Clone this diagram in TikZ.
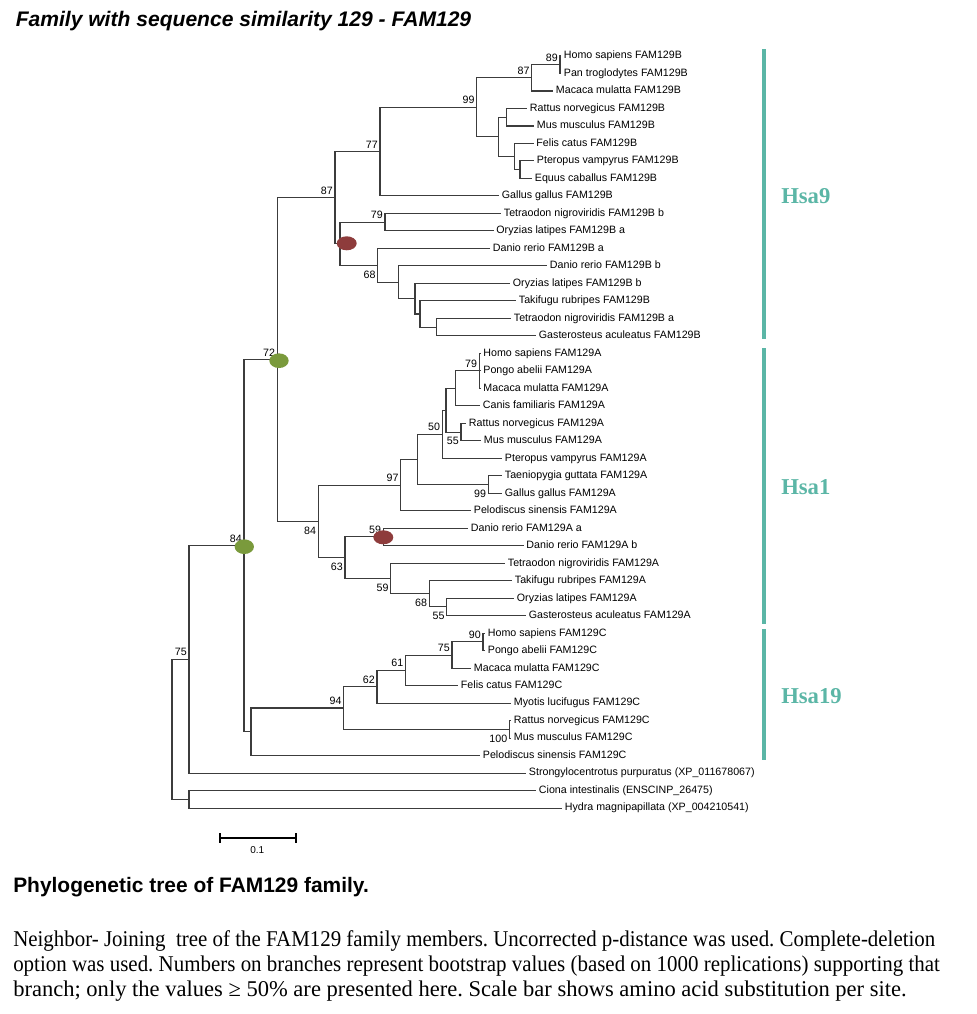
\documentclass[tikz,border=0pt]{standalone}
\usepackage{fontspec}
\usepackage{graphicx}
\setmainfont{Liberation Serif}
\newfontfamily\arial{Liberation Sans}
\usetikzlibrary{shapes.geometric}
\definecolor{hsateal}{RGB}{91,182,166}
\definecolor{gdot}{RGB}{122,154,60}
\definecolor{rdot}{RGB}{142,60,60}
\definecolor{branch}{RGB}{60,60,60}
\begin{document}
\frenchspacing
\begin{tikzpicture}[x=0.75pt,y=-0.75pt,
  leaf/.style={anchor=west,inner sep=2pt,font=\arial\fontsize{8}{9}\selectfont,text height=5.8pt,text depth=1.6pt},
  bsa/.style={anchor=base east,inner sep=0pt,xshift=-1.5pt,yshift=2.6pt,font=\arial\fontsize{8}{9}\selectfont},
  bsb/.style={anchor=base east,inner sep=0pt,xshift=-1.5pt,yshift=-9.6pt,font=\arial\fontsize{8}{9}\selectfont},
  br/.style={draw=branch,line width=0.8pt},
  gdotst/.style={fill=gdot,draw=none,ellipse,minimum width=14.5pt,minimum height=11pt,inner sep=0pt},
  rdotst/.style={fill=rdot,draw=none,ellipse,minimum width=15pt,minimum height=10.5pt,inner sep=0pt},
  hsabar/.style={draw=hsateal,line width=3pt},
  hsalab/.style={anchor=west,inner sep=0pt,text=hsateal,font=\fontsize{17}{20}\selectfont\bfseries},
  captxt/.style={anchor=base west,inner sep=0pt,font=\fontsize{16.9}{19}\selectfont}
]
\useasboundingbox (0,0) rectangle (976,1014);
\fill[white] (0,0) rectangle (976,1014);

% title
\node[anchor=west,inner sep=0pt,font=\arial\fontsize{15.8}{18}\selectfont\bfseries\itshape] (title) at (15.5,21) {Family with sequence similarity 129 - FAM129};

% leaves
\node[leaf] (l0) at (561,56.0) {Homo sapiens FAM129B};
\node[leaf] (l1) at (561,73.5) {Pan troglodytes FAM129B};
\node[leaf] (l2) at (553,91.0) {Macaca mulatta FAM129B};
\node[leaf] (l3) at (527,108.5) {Rattus norvegicus FAM129B};
\node[leaf] (l4) at (534,126.0) {Mus musculus FAM129B};
\node[leaf] (l5) at (533.5,143.5) {Felis catus FAM129B};
\node[leaf] (l6) at (534,160.9) {Pteropus vampyrus FAM129B};
\node[leaf] (l7) at (532,178.4) {Equus caballus FAM129B};
\node[leaf] (l8) at (499,195.9) {Gallus gallus FAM129B};
\node[leaf] (l9) at (501,213.4) {Tetraodon nigroviridis FAM129B b};
\node[leaf] (l10) at (493.5,230.9) {Oryzias latipes FAM129B a};
\node[leaf] (l11) at (490,248.4) {Danio rerio FAM129B a};
\node[leaf] (l12) at (547,265.9) {Danio rerio FAM129B b};
\node[leaf] (l13) at (510,283.4) {Oryzias latipes FAM129B b};
\node[leaf] (l14) at (516,300.9) {Takifugu rubripes FAM129B};
\node[leaf] (l15) at (511,318.4) {Tetraodon nigroviridis FAM129B a};
\node[leaf] (l16) at (536,335.8) {Gasterosteus aculeatus FAM129B};
\node[leaf] (l17) at (480.5,353.3) {Homo sapiens FAM129A};
\node[leaf] (l18) at (480.5,370.8) {Pongo abelii FAM129A};
\node[leaf] (l19) at (480.5,388.3) {Macaca mulatta FAM129A};
\node[leaf] (l20) at (480,405.8) {Canis familiaris FAM129A};
\node[leaf] (l21) at (466,423.3) {Rattus norvegicus FAM129A};
\node[leaf] (l22) at (481,440.8) {Mus musculus FAM129A};
\node[leaf] (l23) at (502,458.3) {Pteropus vampyrus FAM129A};
\node[leaf] (l24) at (502,475.8) {Taeniopygia guttata FAM129A};
\node[leaf] (l25) at (502,493.3) {Gallus gallus FAM129A};
\node[leaf] (l26) at (471,510.7) {Pelodiscus sinensis FAM129A};
\node[leaf] (l27) at (468,528.2) {Danio rerio FAM129A a};
\node[leaf] (l28) at (523.5,545.7) {Danio rerio FAM129A b};
\node[leaf] (l29) at (505,563.2) {Tetraodon nigroviridis FAM129A};
\node[leaf] (l30) at (512,580.7) {Takifugu rubripes FAM129A};
\node[leaf] (l31) at (514,598.2) {Oryzias latipes FAM129A};
\node[leaf] (l32) at (526,615.7) {Gasterosteus aculeatus FAM129A};
\node[leaf] (l33) at (485,633.2) {Homo sapiens FAM129C};
\node[leaf] (l34) at (485,650.7) {Pongo abelii FAM129C};
\node[leaf] (l35) at (471,668.2) {Macaca mulatta FAM129C};
\node[leaf] (l36) at (458,685.6) {Felis catus FAM129C};
\node[leaf] (l37) at (511,703.1) {Myotis lucifugus FAM129C};
\node[leaf] (l38) at (511,720.6) {Rattus norvegicus FAM129C};
\node[leaf] (l39) at (511,738.1) {Mus musculus FAM129C};
\node[leaf] (l40) at (480,755.6) {Pelodiscus sinensis FAM129C};
\node[leaf] (l41) at (526,773.1) {Strongylocentrotus purpuratus (XP\_011678067)};
\node[leaf] (l42) at (536,790.6) {Ciona intestinalis (ENSCINP\_26475)};
\node[leaf] (l43) at (562,808.1) {Hydra magnipapillata (XP\_004210541)};

% internal nodes
\coordinate (b89) at (560,64.75);
\coordinate (b87) at (531.7,77.9);
\coordinate (bRM) at (506.7,117.25);
\coordinate (bPE) at (520,169.65);
\coordinate (bFPE) at (514.3,156.6);
\coordinate (bRMF) at (498.3,136.9);
\coordinate (b99) at (476.7,107.4);
\coordinate (b77) at (380,151.65);
\coordinate (b79) at (385,222.15);
\coordinate (bTG) at (436.7,327.1);
\coordinate (bTk) at (420,314.0);
\coordinate (bOr) at (415,298.7);
\coordinate (bDb) at (398.3,282.3);
\coordinate (b68) at (377.7,265.35);
\coordinate (bF) at (340,243.75);
\coordinate (b87b) at (335,197.7);
\coordinate (a79) at (479.3,370.8);
\coordinate (aC) at (455.7,388.3);
\coordinate (a55) at (461,432.05);
\coordinate (aR) at (446,410.2);
\coordinate (a50) at (442.3,434.25);
\coordinate (a99) at (488.3,484.55);
\coordinate (aMB) at (417.7,459.4);
\coordinate (a97) at (400.7,485.05);
\coordinate (a59r) at (383.3,536.95);
\coordinate (a55b) at (446.7,606.95);
\coordinate (a68) at (429.3,593.8);
\coordinate (a59) at (390.7,578.5);
\coordinate (a63) at (345,557.7);
\coordinate (a84) at (318.3,521.4);
\coordinate (n72) at (277.3,359.55);
\coordinate (c90) at (483,641.95);
\coordinate (c75) at (452,655.1);
\coordinate (c61) at (405.6,670.35);
\coordinate (c62) at (377,686.7);
\coordinate (c100) at (509.5,729.35);
\coordinate (c94) at (343.8,708.0);
\coordinate (cN) at (251,731.8);
\coordinate (n84) at (244,545.7);
\coordinate (n75) at (189,659.4);
\coordinate (nCH) at (189,799.35);
\coordinate (root) at (172,729.4);

% branches
\foreach \p/\c in {b89/l0.west,b89/l1.west,b87/b89,b87/l2.west,bRM/l3.west,bRM/l4.west,
  bPE/l6.west,bPE/l7.west,bFPE/l5.west,bFPE/bPE,bRMF/bRM,bRMF/bFPE,b99/b87,b99/bRMF,
  b77/b99,b77/l8.west,b79/l9.west,b79/l10.west,bTG/l15.west,bTG/l16.west,bTk/l14.west,bTk/bTG,
  bOr/l13.west,bOr/bTk,bDb/l12.west,bDb/bOr,b68/l11.west,b68/bDb,bF/b79,bF/b68,b87b/b77,b87b/bF,
  a79/l17.west,a79/l18.west,a79/l19.west,aC/a79,aC/l20.west,a55/l21.west,a55/l22.west,
  aR/aC,aR/a55,a50/aR,a50/l23.west,a99/l24.west,a99/l25.west,aMB/a50,aMB/a99,a97/aMB,a97/l26.west,
  a59r/l27.west,a59r/l28.west,a55b/l31.west,a55b/l32.west,a68/l30.west,a68/a55b,a59/l29.west,a59/a68,
  a63/a59r,a63/a59,a84/a97,a84/a63,n72/b87b,n72/a84,
  c90/l33.west,c90/l34.west,c75/c90,c75/l35.west,c61/c75,c61/l36.west,c62/c61,c62/l37.west,
  c100/l38.west,c100/l39.west,c94/c62,c94/c100,cN/c94,cN/l40.west,n84/n72,n84/cN,
  n75/n84,n75/l41.west,nCH/l42.west,nCH/l43.west,root/n75,root/nCH}
  \draw[br] (\p) |- (\c);

% bootstrap values
\foreach \n/\v in {b89/89,b87/87,b99/99,b77/77,b87b/87,b79/79,a79/79,a50/50,a97/97,n72/72,
  a59r/59,n84/84,n75/75,c94/94,c62/62,c61/61,c75/75,c90/90}
  \node[bsa] (bs-\n) at (\n) {\v};
\foreach \n/\v in {b68/68,a55/55,a99/99,a84/84,a63/63,a59/59,a68/68,a55b/55,c100/100}
  \node[bsb] (bs-\n) at (\n) {\v};

% duplication / speciation markers
\node[rdotst] (rd1) at (346.7,243.3) {};
\node[rdotst] (rd2) at (383.3,537.3) {};
\node[gdotst] (gd1) at (279,360.7) {};
\node[gdotst] (gd2) at (244.3,546.7) {};

% chromosome bars
\draw[hsabar] (764,49) -- (764,339);
\draw[hsabar] (764,348) -- (764,624);
\draw[hsabar] (764,629) -- (764,760);
\node[hsalab] (h9) at (781,196) {Hsa9};
\node[hsalab] (h1) at (781,487) {Hsa1};
\node[hsalab] (h19) at (781,696) {Hsa19};

% scale bar
\draw[line width=2.2pt] (219.3,838) -- (296.7,838);
\draw[line width=2.2pt] (220,833) -- (220,843);
\draw[line width=2.2pt] (296,833) -- (296,843);
\node[font=\arial\fontsize{7.5}{9}\selectfont,inner sep=0pt] (sb) at (257.3,850.5) {0.1};

% captions
\node[anchor=west,inner sep=0pt,font=\arial\fontsize{15.7}{18}\selectfont\bfseries] (cap) at (13,887) {Phylogenetic tree of FAM129 family.};
\node[captxt] (t1) at (13,946) {\resizebox{691.5pt}{\height}{Neighbor- Joining\ \ tree of the FAM129 family members. Uncorrected p-distance was used. Complete-deletion}};
\node[captxt] (t2) at (13,971) {\resizebox{695pt}{\height}{option was used. Numbers on branches represent bootstrap values (based on 1000 replications) supporting that}};
\node[captxt] (t3) at (13,996) {branch; only the values ≥ 50\% are presented here. Scale bar shows amino acid substitution per site.};
\end{tikzpicture}
\end{document}
